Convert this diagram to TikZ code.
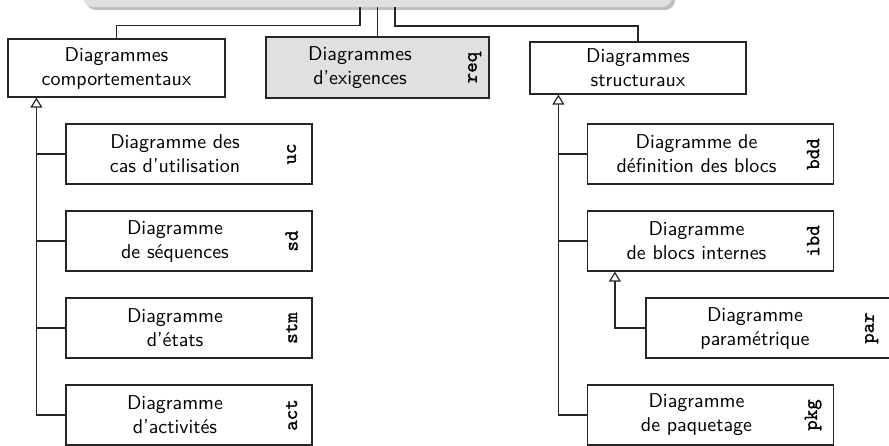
\documentclass[tikz,border=0pt]{standalone}
\usepackage{fontspec}
\renewcommand{\familydefault}{\sfdefault}
\newfontfamily\tagfont{lmmono10-regular.otf}[FakeBold=1.2]
\usepackage{tikz}
\usetikzlibrary{shadows}
\usetikzlibrary{positioning}
\usetikzlibrary{arrows.meta,shapes}
\usetikzlibrary{calc}
\tikzstyle{diagbox}=[rectangle,draw=black!85,line width=0.6pt,fill=white,minimum width=123pt,minimum height=30pt,inner sep=0pt]
\tikzstyle{groupbox}=[diagbox,align=center]
\tikzstyle{diagtext}=[align=center,inner sep=0pt]
\tikzstyle{diagtag}=[rotate=90,font=\tagfont,inner sep=0pt]
\tikzstyle{link}=[draw,line width=0.6pt,black!85]
\tikzstyle{inherit}=[link,-{Triangle[open,length=5pt,width=6pt,fill=white]}]
\tikzset{topbox/.style={rectangle,rounded corners=5pt,fill=black!12,minimum width=294.5pt,minimum height=27pt,drop shadow={shadow xshift=1.5pt,shadow yshift=-1.5pt,fill=black!25,opacity=1}}}

\begin{document}
\begin{tikzpicture}[x=0.5pt,y=-0.5pt]

 \useasboundingbox (0,0) rectangle (889,445);

 %top
 \node[topbox] (top) at (377.5,-20) {};

 %groups
 \foreach \x/\name/\w/\h/\txt in {116.5/comp/108.5/29/{Diagrammes\\comportementaux}, 638/struct/108/26/{Diagrammes\\structuraux}}
        \node[groupbox,minimum width=\w pt,minimum height=\h pt] (\name) at (\x,68) {\txt};

 \node[groupbox,fill=black!12,minimum width=111.5pt,minimum height=30.5pt] (req) at (377.5,67.5) {};
 \node[diagtext] (req-t) at ($(req.center)+(-17.5,0)$) {Diagrammes\\d'exigences};
 \node[diagtag] (req-k) at ($(req.east)+(-15,0)$) {req};

 \coordinate (t1) at ($(top.south)+(-17.5,0)$);
 \coordinate (t3) at ($(top.south)+(17.5,0)$);
 \path[link] (t1) -- ++(0,18) -| (comp.north);
 \path[link] (top.south) -- (req.north);
 \path[link] (t3) -- ++(0,18.5) -| (struct.north);

 %comportementaux
 \def\dx{189};

 \foreach \y/\name/\txt/\tag in {154/uc/{Diagramme des\\cas d'utilisation}/uc, 241/sd/{Diagramme\\de séquences}/sd, 328/stm/{Diagramme\\d'états}/stm, 415/act/{Diagramme\\d'activités}/act}
 {
   \node[diagbox] (\name) at (\dx,\y) {};
   \node[diagtext] (\name-t) at ($(\name.center)+(-14,0)$) {\txt};
   \node[diagtag] (\name-k) at ($(\name.east)+(-21,0)$) {\tag};
 }

 \coordinate (cb) at ($(comp.south west)+(29,0)$);
 \path[inherit] (act.west) -| (cb);
 \foreach \name in {uc,sd,stm}
        \path[link] (\name.west) -- (\name.west -| cb);

 %structuraux
 \def\dx{710.5};

 \foreach \x/\y/\name/\txt/\tag in {\dx/154/bdd/{Diagramme de\\définition des blocs}/bdd, \dx/241/ibd/{Diagramme\\de blocs internes}/ibd, 769/328/par/{Diagramme\\paramétrique}/par, \dx/415/pkg/{Diagramme\\de paquetage}/pkg}
 {
   \node[diagbox] (\name) at (\x,\y) {};
   \node[diagtext] (\name-t) at ($(\name.center)+(-14,0)$) {\txt};
   \node[diagtag] (\name-k) at ($(\name.east)+(-21,0)$) {\tag};
 }

 \coordinate (sb) at ($(struct.south west)+(29,0)$);
 \path[inherit] (pkg.west) -| (sb);
 \foreach \name in {bdd,ibd}
        \path[link] (\name.west) -- (\name.west -| sb);

 \coordinate (ib) at ($(ibd.south west)+(28,0)$);
 \path[inherit] (par.west) -| (ib);

\end{tikzpicture}
\end{document}
